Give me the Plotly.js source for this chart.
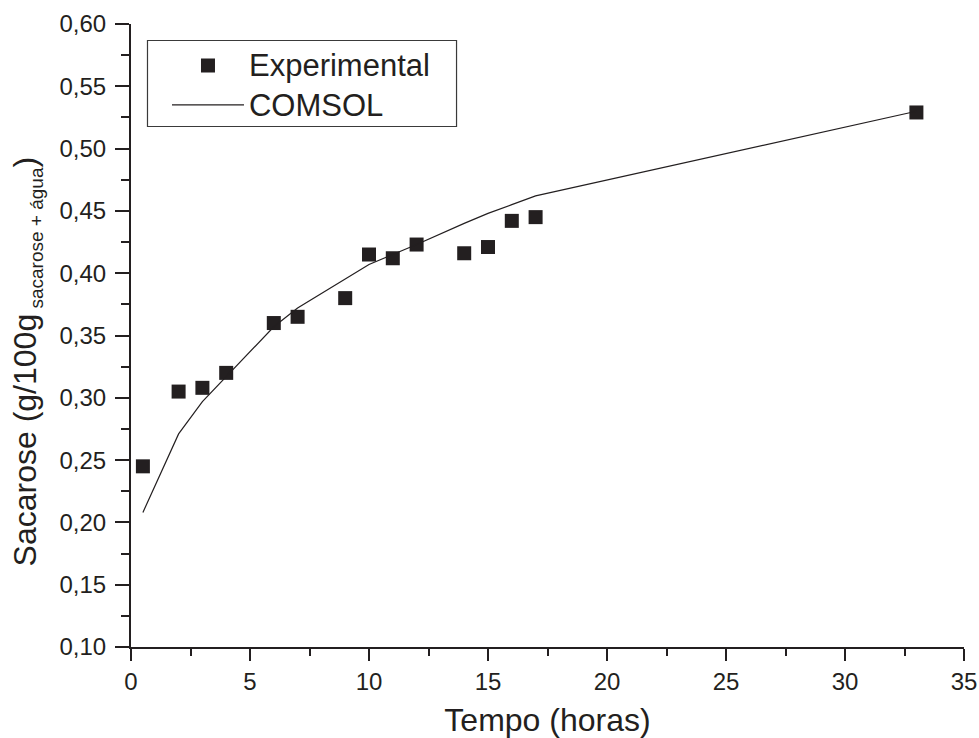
<!DOCTYPE html>
<html>
<head>
<meta charset="utf-8">
<script src="https://cdn.plot.ly/plotly-3.0.1.min.js"></script>
<style>html,body{margin:0;padding:0;background:#fff;}#chart{width:979px;height:738px;}</style>
</head>
<body>
<div id="chart"></div>
<script>
// Experimental data
const expTime = [0.5, 2, 3, 4, 6, 7, 9, 10, 11, 12, 14, 15, 16, 17, 33];
const expSacarose = [0.245, 0.305, 0.308, 0.320, 0.360, 0.365, 0.380, 0.415, 0.412, 0.423, 0.416, 0.421, 0.442, 0.445, 0.529];
// COMSOL simulation
const comsolTime = [0.5, 2, 3, 4, 6, 7, 9, 10, 11, 12, 14, 15, 16, 17, 33];
const comsolSacarose = [0.208, 0.271, 0.297, 0.317, 0.357, 0.372, 0.395, 0.407, 0.415, 0.423, 0.440, 0.448, 0.455, 0.462, 0.530];

const xTicks = [0, 5, 10, 15, 20, 25, 30, 35];
const yTicks = [0.10, 0.15, 0.20, 0.25, 0.30, 0.35, 0.40, 0.45, 0.50, 0.55, 0.60];
const seriesNames = ['Experimental', 'COMSOL'];
const xTitle = 'Tempo (horas)';
const yTitleMain = 'Sacarose (g/100g';
const yTitleSub = ' sacarose + água';

const ink = '#231f20';
const fam = '"Liberation Sans", Arial, Helvetica, sans-serif';

const traces = [
  {
    x: expTime, y: expSacarose, type: 'scatter', mode: 'markers',
    name: '<span style="font-size:31px">' + seriesNames[0] + '</span>',
    marker: {symbol: 'square', size: 14, color: ink, line: {width: 0}}
  },
  {
    x: comsolTime, y: comsolSacarose, type: 'scatter', mode: 'lines',
    name: '<span style="font-size:31px">' + seriesNames[1] + '</span>',
    line: {color: ink, width: 1.2}
  }
];

const layout = {
  width: 979, height: 738,
  margin: {l: 131, r: 15, t: 24, b: 91, pad: 0},
  paper_bgcolor: '#fff', plot_bgcolor: '#fff',
  separators: ',.',
  font: {family: fam, color: ink, size: 24},
  showlegend: true,
  legend: {
    x: 0.0432, y: 0.973, xanchor: 'left', yanchor: 'top',
    bgcolor: 'rgba(0,0,0,0)', borderwidth: 0,
    font: {family: fam, size: 28, color: ink},
    itemwidth: 72, tracegroupgap: 0
  },
  shapes: [{
    type: 'rect', xref: 'paper', yref: 'paper',
    x0: 0.0198, x1: 0.3908, y0: 0.8355, y1: 0.9735,
    line: {color: '#3a3a3a', width: 1.2}, fillcolor: 'rgba(0,0,0,0)', layer: 'above'
  }],
  annotations: [{
    xref: 'paper', yref: 'paper', x: -0.1237, y: 0.4583,
    xanchor: 'center', yanchor: 'middle', textangle: -90, showarrow: false,
    text: yTitleMain + '<sub><span style="font-size:19px">' + yTitleSub + '</span></sub>)',
    font: {size: 32, family: fam, color: ink}
  }],
  xaxis: {
    range: [0, 35], tickvals: xTicks, ticktext: xTicks.map(String),
    showgrid: false, zeroline: false, showline: true, linecolor: ink, linewidth: 2,
    ticks: 'outside', ticklen: 12, tickwidth: 2, tickcolor: ink,
    tickfont: {size: 24, family: fam, color: ink},
    minor: {dtick: 2.5, tick0: 0, ticks: 'outside', ticklen: 7, tickwidth: 2, tickcolor: ink, showgrid: false},
    title: {text: xTitle, font: {size: 32, family: fam, color: ink}, standoff: 24},
    automargin: false, mirror: false
  },
  yaxis: {
    range: [0.10, 0.60], tickvals: yTicks, tickformat: '.2f',
    showgrid: false, zeroline: false, showline: true, linecolor: ink, linewidth: 2,
    ticks: 'outside', ticklen: 14, tickwidth: 2, tickcolor: ink,
    tickfont: {size: 24, family: fam, color: ink}, ticklabelstandoff: 4,
    minor: {dtick: 0.025, tick0: 0.1, ticks: 'outside', ticklen: 8, tickwidth: 2, tickcolor: ink, showgrid: false},
    automargin: false, mirror: false
  }
};

Plotly.newPlot('chart', traces, layout, {displayModeBar: false, staticPlot: true});
</script>
</body>
</html>
